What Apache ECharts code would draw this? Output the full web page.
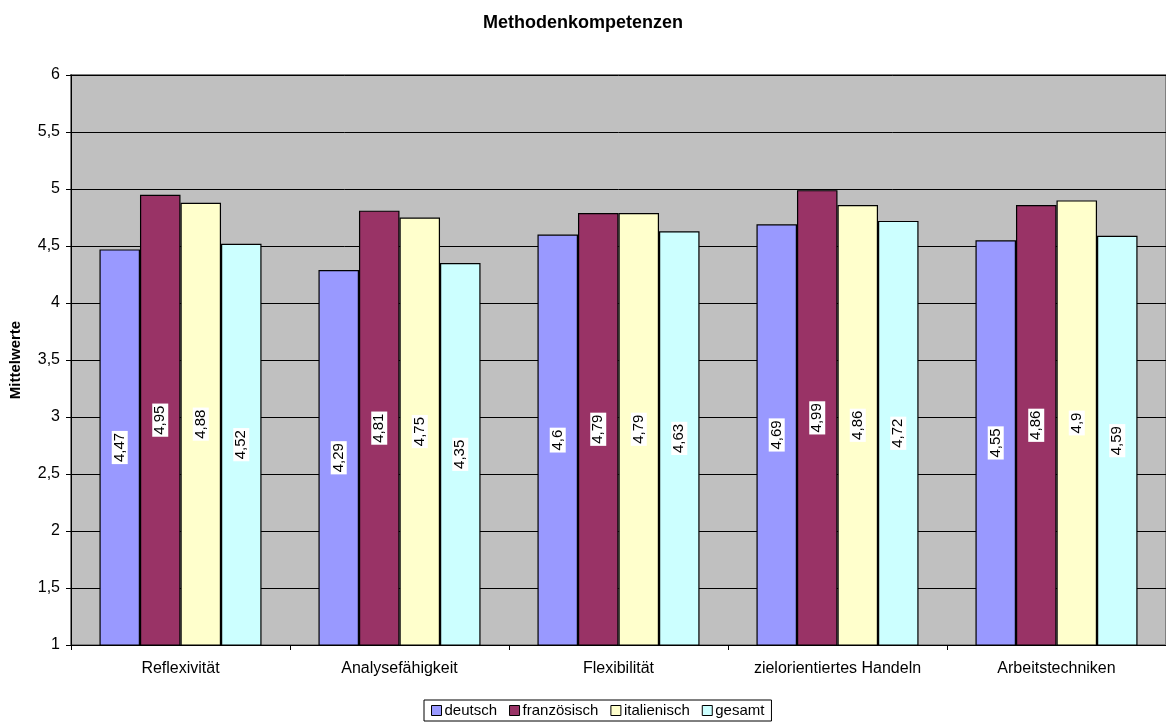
<!DOCTYPE html>
<html>
<head>
<meta charset="utf-8">
<script src="https://cdn.jsdelivr.net/npm/echarts@6/dist/echarts.min.js"></script>
<style>
  html, body { margin: 0; padding: 0; background: #fff; }
  #chart { width: 1166px; height: 722px; }
</style>
</head>
<body>
<div id="chart"></div>
<script>
// Kategorien und Mittelwerte je Sprachregion
const categories = ['Reflexivität', 'Analysefähigkeit', 'Flexibilität', 'zielorientiertes Handeln', 'Arbeitstechniken'];
const deutsch = [4.47, 4.29, 4.6, 4.69, 4.55];
const franzoesisch = [4.95, 4.81, 4.79, 4.99, 4.86];
const italienisch = [4.88, 4.75, 4.79, 4.86, 4.9];
const gesamt = [4.52, 4.35, 4.63, 4.72, 4.59];
const seriesNames = ['deutsch', 'französisch', 'italienisch', 'gesamt'];
const seriesColors = ['#9999ff', '#993366', '#ffffcc', '#ccffff'];

const fmt = v => String(v).replace('.', ',');
const font = 'Liberation Sans, Arial, sans-serif';

function barSeries(name, data, color) {
  return {
    name: name,
    type: 'bar',
    data: data,
    barGap: '0%',
    barCategoryGap: '26%',
    itemStyle: { color: color, borderColor: '#000', borderWidth: 1.2 },
    label: {
      show: true,
      position: 'inside',
      rotate: 90,
      color: '#000',
      fontFamily: font,
      fontSize: 15,
      backgroundColor: '#fff',
      padding: [1, 2, 0, 2],
      formatter: p => fmt(p.value)
    }
  };
}

const chart = echarts.init(document.getElementById('chart'));
chart.setOption({
  animation: false,
  backgroundColor: '#fff',
  title: {
    text: 'Methodenkompetenzen',
    left: 'center',
    top: 9,
    textStyle: { fontFamily: font, fontSize: 18, fontWeight: 'bold', color: '#000' }
  },
  legend: {
    data: seriesNames,
    bottom: 1,
    left: 424,
    icon: 'rect',
    itemWidth: 10,
    itemHeight: 10,
    itemGap: 12,
    padding: [3, 7, 3, 7],
    borderColor: '#000',
    borderWidth: 1,
    textStyle: { fontFamily: font, fontSize: 15, color: '#000', padding: [0, 0, 0, -2] },
    itemStyle: { borderColor: '#000', borderWidth: 1 }
  },
  grid: {
    left: 70,
    right: 0,
    top: 75,
    bottom: 77,
    show: true,
    backgroundColor: '#c0c0c0',
    borderColor: '#808080',
    borderWidth: 2
  },
  xAxis: {
    type: 'category',
    data: categories,
    axisLine: { lineStyle: { color: '#000', width: 1 } },
    axisTick: { show: true, alignWithLabel: false, length: 5, lineStyle: { color: '#000' } },
    axisLabel: { fontFamily: font, fontSize: 16, color: '#000', margin: 16 }
  },
  yAxis: {
    type: 'value',
    min: 1,
    max: 6,
    interval: 0.5,
    name: 'Mittelwerte',
    nameLocation: 'middle',
    nameRotate: 90,
    nameGap: 48,
    nameTextStyle: { fontFamily: font, fontSize: 15, fontWeight: 'bold', color: '#000' },
    axisLine: { show: true, lineStyle: { color: '#000', width: 1 } },
    axisTick: { show: true, length: 5, lineStyle: { color: '#000' } },
    axisLabel: { fontFamily: font, fontSize: 16, color: '#000', margin: 11, formatter: v => fmt(v) },
    splitLine: { show: true, lineStyle: { color: '#000', width: 1 } }
  },
  series: [
    barSeries(seriesNames[0], deutsch, seriesColors[0]),
    barSeries(seriesNames[1], franzoesisch, seriesColors[1]),
    barSeries(seriesNames[2], italienisch, seriesColors[2]),
    barSeries(seriesNames[3], gesamt, seriesColors[3])
  ]
});
</script>
</body>
</html>
